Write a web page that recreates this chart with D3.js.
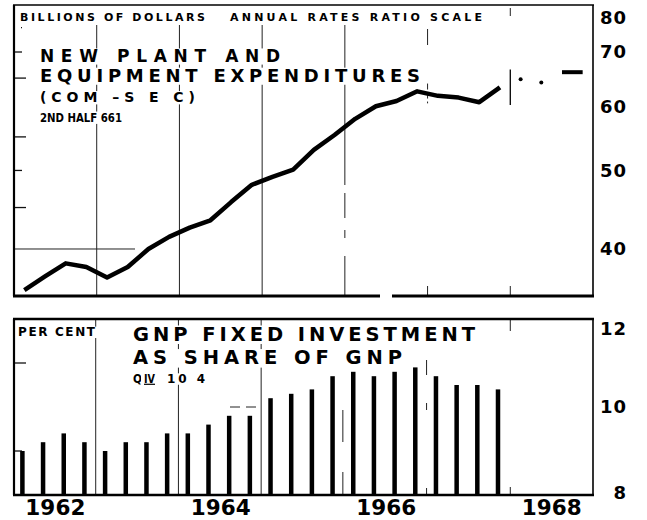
<!DOCTYPE html>
<html lang="en">
<meta charset="utf-8">
<title>New Plant and Equipment Expenditures</title>
<style>
  body { margin: 0; background: #fff; }
  svg { display: block; font-family: "DejaVu Sans", sans-serif; font-weight: bold; }
</style>
<body>
<script src="https://d3js.org/d3.v7.min.js"></script>
<script>
  // quarters shown in both panels
  var quarters = [
    "1962 Q1", "1962 Q2", "1962 Q3", "1962 Q4",
    "1963 Q1", "1963 Q2", "1963 Q3", "1963 Q4",
    "1964 Q1", "1964 Q2", "1964 Q3", "1964 Q4",
    "1965 Q1", "1965 Q2", "1965 Q3", "1965 Q4",
    "1966 Q1", "1966 Q2", "1966 Q3", "1966 Q4",
    "1967 Q1", "1967 Q2", "1967 Q3", "1967 Q4"
  ];

  // new plant and equipment expenditures, billions of dollars, annual rates
  var expenditures = [
    35.6, 37.0, 38.4, 38.0,
    36.9, 38.0, 40.0, 41.4,
    42.5, 43.4, 45.7, 48.0,
    49.1, 50.1, 53.0, 55.3,
    57.9, 60.0, 60.9, 62.6,
    61.8, 61.5, 60.7, 63.3
  ];

  // Com-SEC anticipations
  var anticipatedQuarters = ["1968 Q1", "1968 Q2"];
  var anticipated = [64.8, 64.2];
  var secondHalfQuarters = ["1968 Q3", "1968 Q4"];
  var secondHalf = 66.1;

  // GNP fixed investment as share of GNP, per cent
  var investmentShare = [
    9.0, 9.2, 9.4, 9.2,
    9.0, 9.2, 9.2, 9.4,
    9.4, 9.6, 9.8, 9.8,
    10.2, 10.3, 10.4, 10.7,
    10.8, 10.7, 10.8, 10.9,
    10.7, 10.5, 10.5, 10.4
  ];

  var yearLabels = [1962, 1964, 1966, 1968];
  var gridYears = [1963, 1964, 1965, 1966, 1967, 1968];
  var dollarTicks = [40, 50, 60, 70, 80];
  var dollarMinorTicks = [45, 50, 55, 65, 70, 75];
  var shareTicks = [8, 10, 12];
  var shareMinorTicks = [9, 11];

  function qTime(s) {
    var p = s.split(" Q");
    return +p[0] + (+p[1] - 0.5) / 4;
  }

  var svg = d3.select("body").append("svg")
    .attr("width", 647)
    .attr("height", 520);

  var x = d3.scaleLinear().domain([1962, 1969]).range([14, 593]);
  var y1 = d3.scaleLog().domain([35, 80]).range([296, 5]);
  var y2 = d3.scaleLinear().domain([8, 12]).range([495, 319]);

  // grid lines
  var grid = svg.append("g")
    .attr("stroke", "#222")
    .attr("stroke-width", 1);

  // top panel
  gridYears.forEach(function(yr) {
    if (yr <= 1966) {
      grid.append("line")
        .attr("x1", x(yr)).attr("x2", x(yr))
        .attr("y1", 25).attr("y2", y1.range()[0])
        .attr("stroke-dasharray", yr == 1966 ? "160,8,25,12,8,18,60" : null);
    } else {
      grid.append("line")
        .attr("x1", x(yr)).attr("x2", x(yr))
        .attr("y1", yr == 1967 ? 29 : 8).attr("y2", yr == 1967 ? 45 : 16);
      grid.append("line")
        .attr("x1", x(yr)).attr("x2", x(yr))
        .attr("y1", y1.range()[0] - 10).attr("y2", y1.range()[0]);
    }
  });
  grid.append("line")
    .attr("x1", x(1967)).attr("x2", x(1967))
    .attr("y1", y1(64)).attr("y2", y1(60.5))
    .attr("stroke-dasharray", "6,3");
  grid.append("line")
    .attr("x1", x(1962)).attr("x2", 135)
    .attr("y1", y1(40)).attr("y2", y1(40));

  // bottom panel
  gridYears.forEach(function(yr) {
    if (yr <= 1965) {
      grid.append("line")
        .attr("x1", x(yr) - 1).attr("x2", x(yr) - 1)
        .attr("y1", y2.range()[1]).attr("y2", y2.range()[0]);
    } else if (yr == 1966) {
      grid.append("line")
        .attr("x1", x(yr) - 2).attr("x2", x(yr) - 2)
        .attr("y1", 410).attr("y2", y2.range()[0])
        .attr("stroke-dasharray", "32,30,22");
    } else if (yr == 1967) {
      grid.append("line")
        .attr("x1", x(yr) - 1).attr("x2", x(yr) - 1)
        .attr("y1", 360).attr("y2", y2.range()[0])
        .attr("stroke-dasharray", "15,28,7,78,6");
    } else {
      grid.append("line")
        .attr("x1", x(yr)).attr("x2", x(yr))
        .attr("y1", y2.range()[1]).attr("y2", y2.range()[1] + 12);
      grid.append("line")
        .attr("x1", x(yr)).attr("x2", x(yr))
        .attr("y1", y2.range()[0] - 8).attr("y2", y2.range()[0]);
    }
  });
  grid.append("line")
    .attr("x1", 230).attr("x2", 258)
    .attr("y1", y2(10)).attr("y2", y2(10))
    .attr("stroke-dasharray", "10,6");

  // left minor ticks
  svg.append("g").selectAll("line")
    .data(dollarMinorTicks)
    .join("line")
    .attr("x1", function(d) { return d == 75 ? 21 : 14; })
    .attr("x2", function(d) { return d == 70 || d == 50 || d == 75 ? 22 : 26; })
    .attr("y1", function(d) { return y1(d); })
    .attr("y2", function(d) { return y1(d); })
    .attr("stroke", "#111")
    .attr("stroke-width", 1.3);

  svg.append("g").selectAll("line")
    .data(shareMinorTicks)
    .join("line")
    .attr("x1", 14)
    .attr("x2", function(d) { return d == 11 ? 26 : 22; })
    .attr("y1", function(d) { return y2(d); })
    .attr("y2", function(d) { return y2(d); })
    .attr("stroke", "#111")
    .attr("stroke-width", 1.3);

  // titles, pasted on white
  var titles = svg.append("g");

  function label(txt, tx, ty, size, len) {
    var t = titles.append("text")
      .attr("x", tx)
      .attr("y", ty)
      .attr("font-size", size)
      .attr("fill", "#000")
      .text(txt);
    var natural = t.node().getComputedTextLength();
    t.attr("textLength", len)
      .attr("lengthAdjust", natural > len ? "spacingAndGlyphs" : "spacing");
    var b = t.node().getBBox();
    titles.insert("rect", function() { return t.node(); })
      .attr("x", b.x - 3)
      .attr("y", ty - size * 0.78)
      .attr("width", b.width + 6)
      .attr("height", size * 0.95)
      .attr("fill", "#fff");
    return t;
  }

  label("BILLIONS OF DOLLARS", 20, 20.7, 11, 185);
  label("ANNUAL RATES RATIO SCALE", 230, 20.7, 11, 252);
  label("NEW PLANT AND", 40, 61.7, 17, 240);
  label("EQUIPMENT EXPENDITURES", 40, 81.7, 18, 380);
  label("(COM \u2013S E C)", 40, 102, 14, 155);
  label("2ND HALF 661", 40, 121.7, 13, 82);

  label("PER CENT", 18, 336, 12, 77);
  label("GNP FIXED INVESTMENT", 133, 340.7, 19.5, 342);
  label("AS SHARE OF GNP", 133, 364.3, 19.5, 269);
  label("Q", 133, 382.7, 12, 9);
  label("IV", 144, 382.7, 12, 11).attr("text-decoration", "underline");
  label("10 4", 167, 382.7, 12, 38);

  // bars
  svg.append("g").selectAll("rect")
    .data(investmentShare)
    .join("rect")
    .attr("x", function(d, i) { return x(qTime(quarters[i])) - 4.2; })
    .attr("width", 4.5)
    .attr("y", function(d) { return y2(d); })
    .attr("height", function(d) { return y2(8) - y2(d); })
    .attr("fill", "#000");

  // expenditures line
  var line = d3.line()
    .x(function(d, i) { return x(qTime(quarters[i])); })
    .y(function(d) { return y1(d); });

  svg.append("path")
    .datum(expenditures)
    .attr("d", line)
    .attr("fill", "none")
    .attr("stroke", "#000")
    .attr("stroke-width", 4.5)
    .attr("stroke-linejoin", "round")
    .attr("stroke-linecap", "butt");

  // anticipations
  svg.append("line")
    .attr("x1", x(1968)).attr("x2", x(1968))
    .attr("y1", y1(66.6)).attr("y2", y1(60.2))
    .attr("stroke", "#000")
    .attr("stroke-width", 1.3);

  svg.append("g").selectAll("circle")
    .data(anticipated)
    .join("circle")
    .attr("cx", function(d, i) { return x(qTime(anticipatedQuarters[i])); })
    .attr("cy", function(d) { return y1(d); })
    .attr("r", 2)
    .attr("fill", "#000");

  svg.append("line")
    .attr("x1", x(qTime(secondHalfQuarters[0])))
    .attr("x2", x(qTime(secondHalfQuarters[1])))
    .attr("y1", y1(secondHalf))
    .attr("y2", y1(secondHalf))
    .attr("stroke", "#000")
    .attr("stroke-width", 4);

  // frames
  function frame(top, bottom, wTop, wBottom) {
    var f = svg.append("g").attr("stroke", "#000").attr("fill", "none");
    f.append("line").attr("x1", 13).attr("x2", 594).attr("y1", top).attr("y2", top)
      .attr("stroke-width", wTop);
    f.append("line").attr("x1", 13).attr("x2", 594).attr("y1", bottom).attr("y2", bottom)
      .attr("stroke-width", wBottom);
    f.append("line").attr("x1", 14).attr("x2", 14).attr("y1", top).attr("y2", bottom)
      .attr("stroke-width", 2.2);
    f.append("line").attr("x1", 593).attr("x2", 593).attr("y1", top).attr("y2", bottom)
      .attr("stroke-width", 1.6);
    return f;
  }
  frame(y1.range()[1], y1.range()[0], 1.6, 3);
  // small break in the lower rule of the top panel
  svg.append("rect")
    .attr("x", 380).attr("y", y1.range()[0] - 3)
    .attr("width", 12).attr("height", 6)
    .attr("fill", "#fff");
  frame(y2.range()[1], y2.range()[0], 2.5, 2.5);

  // right-hand scales
  var axisTop = svg.append("g")
    .attr("transform", "translate(593,0)")
    .call(d3.axisRight(y1).tickValues(dollarTicks).tickFormat(d3.format("d")).tickSize(0));
  var axisBottom = svg.append("g")
    .attr("transform", "translate(593,0)")
    .call(d3.axisRight(y2).tickValues(shareTicks).tickFormat(d3.format("d")).tickSize(0));

  [axisTop, axisBottom].forEach(function(a) {
    a.select(".domain").remove();
    a.selectAll("text")
      .attr("x", 34)
      .attr("text-anchor", "end")
      .attr("font-family", "DejaVu Sans, sans-serif")
      .attr("font-weight", "bold")
      .attr("font-size", 18)
      .attr("letter-spacing", 1)
      .attr("fill", "#000");
  });
  axisTop.selectAll("text").filter(function(d) { return d == 80; }).attr("dy", "1.0em");
  axisBottom.selectAll("text").filter(function(d) { return d == 12; }).attr("dy", "0.85em");
  axisBottom.selectAll("text").filter(function(d) { return d == 8; }).attr("dy", "0.2em");

  // year labels
  svg.append("g").selectAll("text")
    .data(yearLabels)
    .join("text")
    .attr("x", function(d) { return x(d + 0.5); })
    .attr("y", 515)
    .attr("text-anchor", "middle")
    .attr("font-size", 21.5)
    .attr("textLength", 60)
    .attr("lengthAdjust", "spacing")
    .text(function(d) { return d; });
</script>
</body>
</html>
